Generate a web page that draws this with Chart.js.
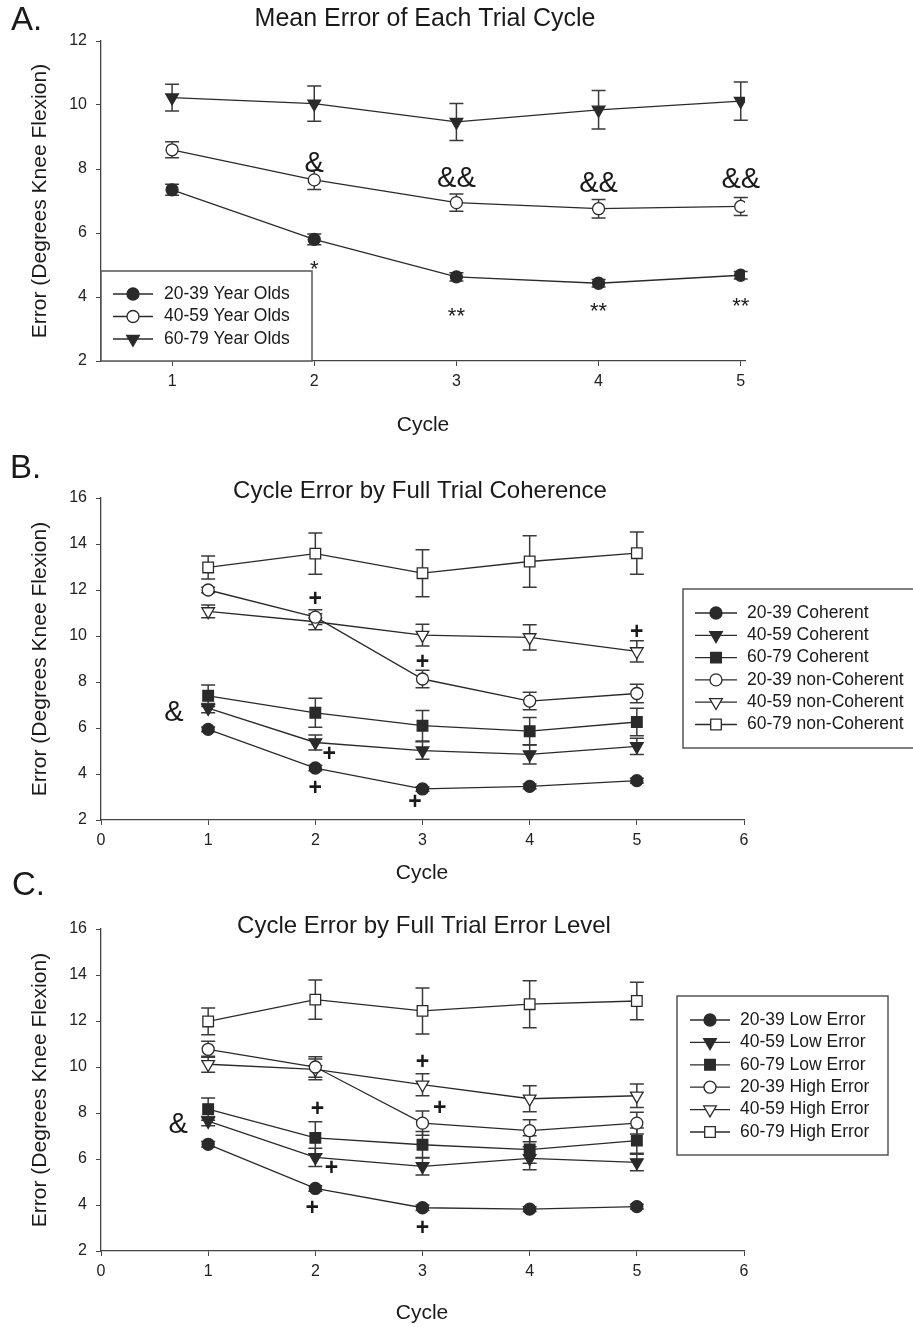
<!DOCTYPE html>
<html>
<head>
<meta charset="utf-8">
<script src="https://cdn.jsdelivr.net/npm/chart.js@4/dist/chart.umd.min.js"></script>
<style>
  html, body { margin: 0; padding: 0; background: #fff; }
  #wrap { position: relative; width: 913px; height: 1327px; }
  canvas { position: absolute; left: 0; top: 0; }
</style>
</head>
<body>
<div id="wrap">
  <canvas id="chartA" width="913" height="1327"></canvas>
  <canvas id="chartB" width="913" height="1327"></canvas>
  <canvas id="chartC" width="913" height="1327"></canvas>
</div>
<script>
// ---- data ----
const cycles = [1, 2, 3, 4, 5];
const xTicksA = [1, 2, 3, 4, 5];
const xTicksBC = [0, 1, 2, 3, 4, 5, 6];
const yTicksA = [2, 4, 6, 8, 10, 12];
const yTicksBC = [2, 4, 6, 8, 10, 12, 14, 16];

// A. Mean Error of Each Trial Cycle
const labelsA = ['20-39 Year Olds', '40-59 Year Olds', '60-79 Year Olds'];
const meanA2039 = [7.35, 5.80, 4.63, 4.43, 4.68];
const errA2039  = [0.17, 0.17, 0.13, 0.12, 0.12];
const meanA4059 = [8.60, 7.66, 6.95, 6.76, 6.83];
const errA4059  = [0.25, 0.30, 0.27, 0.29, 0.28];
const meanA6079 = [10.23, 10.04, 9.47, 9.85, 10.12];
const errA6079  = [0.42, 0.55, 0.58, 0.60, 0.60];
const notesA = [
  { t: '&', x: 2, y: 8.23 }, { t: '&&', x: 3, y: 7.76 }, { t: '&&', x: 4, y: 7.60 }, { t: '&&', x: 5, y: 7.74 },
  { t: '*', x: 2, y: 5.06 }, { t: '**', x: 3, y: 3.60 }, { t: '**', x: 4, y: 3.73 }, { t: '**', x: 5, y: 3.90 }
];

// B. Cycle Error by Full Trial Coherence
const labelsB = ['20-39 Coherent', '40-59 Coherent', '60-79 Coherent',
                 '20-39 non-Coherent', '40-59 non-Coherent', '60-79 non-Coherent'];
const meanBC2039 = [5.94, 4.26, 3.35, 3.46, 3.71];
const errBC2039  = [0.10, 0.12, 0.10, 0.10, 0.10];
const meanBC4059 = [6.86, 5.37, 5.02, 4.85, 5.20];
const errBC4059  = [0.20, 0.33, 0.38, 0.42, 0.35];
const meanBC6079 = [7.40, 6.66, 6.10, 5.86, 6.26];
const errBC6079  = [0.47, 0.63, 0.66, 0.60, 0.60];
const meanBN2039 = [12.00, 10.82, 8.13, 7.17, 7.50];
const errBN2039  = [0.12, 0.32, 0.38, 0.38, 0.40];
const meanBN4059 = [11.07, 10.62, 10.04, 9.94, 9.33];
const errBN4059  = [0.28, 0.35, 0.47, 0.55, 0.46];
const meanBN6079 = [12.98, 13.58, 12.73, 13.24, 13.60];
const errBN6079  = [0.50, 0.90, 1.02, 1.12, 0.92];
const notesB = [
  { t: '&', x: 0.68, y: 6.77 },
  { t: '+', x: 2.0, y: 11.63 }, { t: '+', x: 3.0, y: 8.90 }, { t: '+', x: 5.0, y: 10.18 },
  { t: '+', x: 2.13, y: 4.89 }, { t: '+', x: 2.0, y: 3.40 }, { t: '+', x: 2.93, y: 2.83 }
];

// C. Cycle Error by Full Trial Error Level
const labelsC = ['20-39 Low Error', '40-59 Low Error', '60-79 Low Error',
                 '20-39 High Error', '40-59 High Error', '60-79 High Error'];
const meanCL2039 = [6.64, 4.72, 3.88, 3.82, 3.93];
const errCL2039  = [0.12, 0.12, 0.12, 0.10, 0.10];
const meanCL4059 = [7.65, 6.07, 5.68, 6.03, 5.85];
const errCL4059  = [0.20, 0.40, 0.38, 0.50, 0.36];
const meanCL6079 = [8.17, 6.92, 6.62, 6.41, 6.80];
const errCL6079  = [0.48, 0.70, 0.58, 0.60, 0.55];
const meanCH2039 = [10.77, 10.00, 7.56, 7.23, 7.56];
const errCH2039  = [0.35, 0.45, 0.53, 0.48, 0.47];
const meanCH4059 = [10.12, 9.90, 9.23, 8.62, 8.75];
const errCH4059  = [0.35, 0.45, 0.48, 0.57, 0.51];
const meanCH6079 = [11.98, 12.93, 12.44, 12.73, 12.87];
const errCH6079  = [0.58, 0.85, 1.00, 1.02, 0.82];
const notesC = [
  { t: '&', x: 0.72, y: 7.60 },
  { t: '+', x: 3.0, y: 10.23 }, { t: '+', x: 2.02, y: 8.22 }, { t: '+', x: 3.16, y: 8.26 },
  { t: '+', x: 2.15, y: 5.62 }, { t: '+', x: 1.97, y: 3.88 }, { t: '+', x: 3.0, y: 3.03 }
];

// ---- styling ----
const W = 913, H = 1327;
const INK = '#2a2a2a';
const FONT = "'Liberation Sans', Arial, Helvetica, sans-serif";
Chart.defaults.font.family = FONT;
Chart.defaults.color = '#222';

const markers = {
  dot:      { style: 'circle',   r: 6,   rot: 0,   fill: INK },
  ring:     { style: 'circle',   r: 6,   rot: 0,   fill: '#fff' },
  triDown:  { style: 'triangle', r: 7.3, rot: 180, fill: INK },
  triOpen:  { style: 'triangle', r: 7.3, rot: 180, fill: '#fff' },
  square:   { style: 'rect',     r: 7.5, rot: 0,   fill: INK },
  squareOp: { style: 'rect',     r: 7.5, rot: 0,   fill: '#fff' }
};
const noteFont = { '&': '29px', '&&': '29px', '*': '22px', '**': '22px', '+': 'bold 23px' };
// baseline offset (fraction of size) so glyph centre lands on the value
const noteShift = { '&': 0.36, '&&': 0.36, '*': 0.58, '**': 0.58, '+': 0.33 };

function series(label, means, errs, m) {
  return {
    label,
    data: cycles.map((c, i) => ({ x: c, y: means[i] })),
    errors: errs,
    marker: m,
    borderColor: INK,
    borderWidth: 1.3,
    tension: 0,
    fill: false,
    pointStyle: m.style,
    pointRadius: m.r,
    pointHoverRadius: m.r,
    pointRotation: m.rot,
    pointBackgroundColor: m.fill,
    pointBorderColor: INK,
    pointBorderWidth: 1.3
  };
}

function drawMarker(ctx, m, x, y) {
  ctx.save();
  ctx.fillStyle = m.fill;
  ctx.strokeStyle = INK;
  ctx.lineWidth = 1.3;
  ctx.beginPath();
  if (m.style === 'circle') {
    ctx.arc(x, y, m.r, 0, Math.PI * 2);
  } else if (m.style === 'rect') {
    const s = m.r * Math.SQRT1_2;
    ctx.rect(x - s, y - s, 2 * s, 2 * s);
  } else {
    const r = m.r, k = Math.sin(Math.PI / 3);
    ctx.moveTo(x, y + r);
    ctx.lineTo(x - r * k, y - r / 2);
    ctx.lineTo(x + r * k, y - r / 2);
    ctx.closePath();
  }
  ctx.fill();
  ctx.stroke();
  ctx.restore();
}

function decoPlugin(p) {
  return {
    id: 'deco',
    beforeDatasetsDraw(chart) {
      const ctx = chart.ctx, xs = chart.scales.x, ys = chart.scales.y;
      ctx.save();
      ctx.strokeStyle = '#3a3a3a';
      ctx.lineWidth = 1.5;
      chart.data.datasets.forEach(ds => {
        ds.data.forEach((pt, i) => {
          const e = ds.errors[i];
          const px = xs.getPixelForValue(pt.x);
          const t = ys.getPixelForValue(pt.y + e), b = ys.getPixelForValue(pt.y - e);
          ctx.beginPath();
          ctx.moveTo(px, t); ctx.lineTo(px, b);
          ctx.moveTo(px - 7, t); ctx.lineTo(px + 7, t);
          ctx.moveTo(px - 7, b); ctx.lineTo(px + 7, b);
          ctx.stroke();
        });
      });
      ctx.restore();
    },
    afterDraw(chart) {
      const ctx = chart.ctx, xs = chart.scales.x, ys = chart.scales.y, a = chart.chartArea;
      ctx.save();
      ctx.fillStyle = '#1a1a1a';
      // panel letter and title
      ctx.textBaseline = 'middle';
      ctx.textAlign = 'left';
      ctx.font = '33px ' + FONT;
      ctx.fillText(p.letter, p.letterX, p.letterY);
      ctx.textAlign = 'center';
      ctx.font = p.titleSize + ' ' + FONT;
      ctx.fillText(p.title, p.titleX, p.titleY);
      // axis titles
      ctx.font = '21px ' + FONT;
      ctx.fillText('Cycle', p.xTitleX, p.xTitleY);
      ctx.save();
      ctx.translate(40, (a.top + a.bottom) / 2);
      ctx.rotate(-Math.PI / 2);
      ctx.fillText('Error (Degrees Knee Flexion)', 0, 0);
      ctx.restore();
      // significance marks
      ctx.textBaseline = 'alphabetic';
      p.notes.forEach(n => {
        const size = parseFloat(noteFont[n.t].replace('bold ', ''));
        ctx.font = noteFont[n.t] + ' ' + FONT;
        ctx.fillText(n.t, xs.getPixelForValue(n.x), ys.getPixelForValue(n.y) + noteShift[n.t] * size);
      });
      // legend
      const L = p.legend;
      ctx.fillStyle = '#fff';
      ctx.fillRect(L.left, L.top, L.right - L.left, L.bottom - L.top);
      ctx.strokeStyle = '#555';
      ctx.lineWidth = 1.5;
      ctx.strokeRect(L.left, L.top, L.right - L.left, L.bottom - L.top);
      ctx.font = '17.5px ' + FONT;
      ctx.textAlign = 'left';
      ctx.textBaseline = 'middle';
      chart.data.datasets.forEach((ds, i) => {
        const y = L.row0 + i * L.rowGap;
        ctx.strokeStyle = INK;
        ctx.lineWidth = 1.3;
        ctx.beginPath();
        ctx.moveTo(L.lineX0, y); ctx.lineTo(L.lineX1, y);
        ctx.stroke();
        drawMarker(ctx, ds.marker, (L.lineX0 + L.lineX1) / 2, y);
        ctx.fillStyle = '#1a1a1a';
        ctx.fillText(ds.label, L.textX, y);
      });
      ctx.restore();
    }
  };
}

function makePanel(id, p) {
  return new Chart(document.getElementById(id), {
    type: 'line',
    data: { datasets: p.datasets },
    options: {
      responsive: false,
      animation: false,
      events: [],
      layout: { padding: { left: 0, top: p.area.top, right: W - p.area.right, bottom: 0 } },
      plugins: { legend: { display: false }, title: { display: false }, tooltip: { enabled: false } },
      scales: {
        x: {
          type: 'linear',
          min: p.xMin, max: p.xMax,
          afterBuildTicks: s => { s.ticks = p.xTicks.map(v => ({ value: v })); },
          ticks: { color: '#222', font: { size: 16 }, padding: 6, maxRotation: 0, autoSkip: false },
          grid: { drawOnChartArea: false, drawTicks: true, tickLength: 5, color: '#444' },
          border: { display: true, color: '#444', width: 1.3 },
          afterFit: s => { s.height = H - p.area.bottom; }
        },
        y: {
          type: 'linear',
          min: p.yTicks[0], max: p.yTicks[p.yTicks.length - 1],
          afterBuildTicks: s => { s.ticks = p.yTicks.map(v => ({ value: v })); },
          ticks: { color: '#222', font: { size: 16 }, padding: 9, autoSkip: false },
          grid: { drawOnChartArea: false, drawTicks: true, tickLength: 5, color: '#444' },
          border: { display: true, color: '#444', width: 1.3 },
          afterFit: s => { s.width = p.area.left; }
        }
      }
    },
    plugins: [decoPlugin(p)]
  });
}

makePanel('chartA', {
  area: { left: 101, right: 745, top: 41, bottom: 361 },
  xMin: 0.5, xMax: 5.03, xTicks: xTicksA, yTicks: yTicksA,
  letter: 'A.', letterX: 11, letterY: 21,
  title: 'Mean Error of Each Trial Cycle', titleSize: '25px', titleX: 425, titleY: 19,
  xTitleX: 423, xTitleY: 425,
  notes: notesA,
  legend: { left: 101, right: 312, top: 271, bottom: 361, row0: 294, rowGap: 22.5, lineX0: 113, lineX1: 153, textX: 164 },
  datasets: [
    series(labelsA[0], meanA2039, errA2039, markers.dot),
    series(labelsA[1], meanA4059, errA4059, markers.ring),
    series(labelsA[2], meanA6079, errA6079, markers.triDown)
  ]
});

makePanel('chartB', {
  area: { left: 101, right: 744, top: 498, bottom: 820 },
  xMin: 0, xMax: 6, xTicks: xTicksBC, yTicks: yTicksBC,
  letter: 'B.', letterX: 10, letterY: 469,
  title: 'Cycle Error by Full Trial Coherence', titleSize: '24px', titleX: 420, titleY: 491,
  xTitleX: 422, xTitleY: 873,
  notes: notesB,
  legend: { left: 683, right: 916, top: 589, bottom: 748, row0: 613, rowGap: 22.3, lineX0: 695, lineX1: 737, textX: 747 },
  datasets: [
    series(labelsB[0], meanBC2039, errBC2039, markers.dot),
    series(labelsB[1], meanBC4059, errBC4059, markers.triDown),
    series(labelsB[2], meanBC6079, errBC6079, markers.square),
    series(labelsB[3], meanBN2039, errBN2039, markers.ring),
    series(labelsB[4], meanBN4059, errBN4059, markers.triOpen),
    series(labelsB[5], meanBN6079, errBN6079, markers.squareOp)
  ]
});

makePanel('chartC', {
  area: { left: 101, right: 744, top: 929, bottom: 1251 },
  xMin: 0, xMax: 6, xTicks: xTicksBC, yTicks: yTicksBC,
  letter: 'C.', letterX: 12, letterY: 886,
  title: 'Cycle Error by Full Trial Error Level', titleSize: '24px', titleX: 424, titleY: 926,
  xTitleX: 422, xTitleY: 1313,
  notes: notesC,
  legend: { left: 677, right: 888, top: 996, bottom: 1155, row0: 1020, rowGap: 22.4, lineX0: 690, lineX1: 730, textX: 740 },
  datasets: [
    series(labelsC[0], meanCL2039, errCL2039, markers.dot),
    series(labelsC[1], meanCL4059, errCL4059, markers.triDown),
    series(labelsC[2], meanCL6079, errCL6079, markers.square),
    series(labelsC[3], meanCH2039, errCH2039, markers.ring),
    series(labelsC[4], meanCH4059, errCH4059, markers.triOpen),
    series(labelsC[5], meanCH6079, errCH6079, markers.squareOp)
  ]
});
</script>
</body>
</html>
